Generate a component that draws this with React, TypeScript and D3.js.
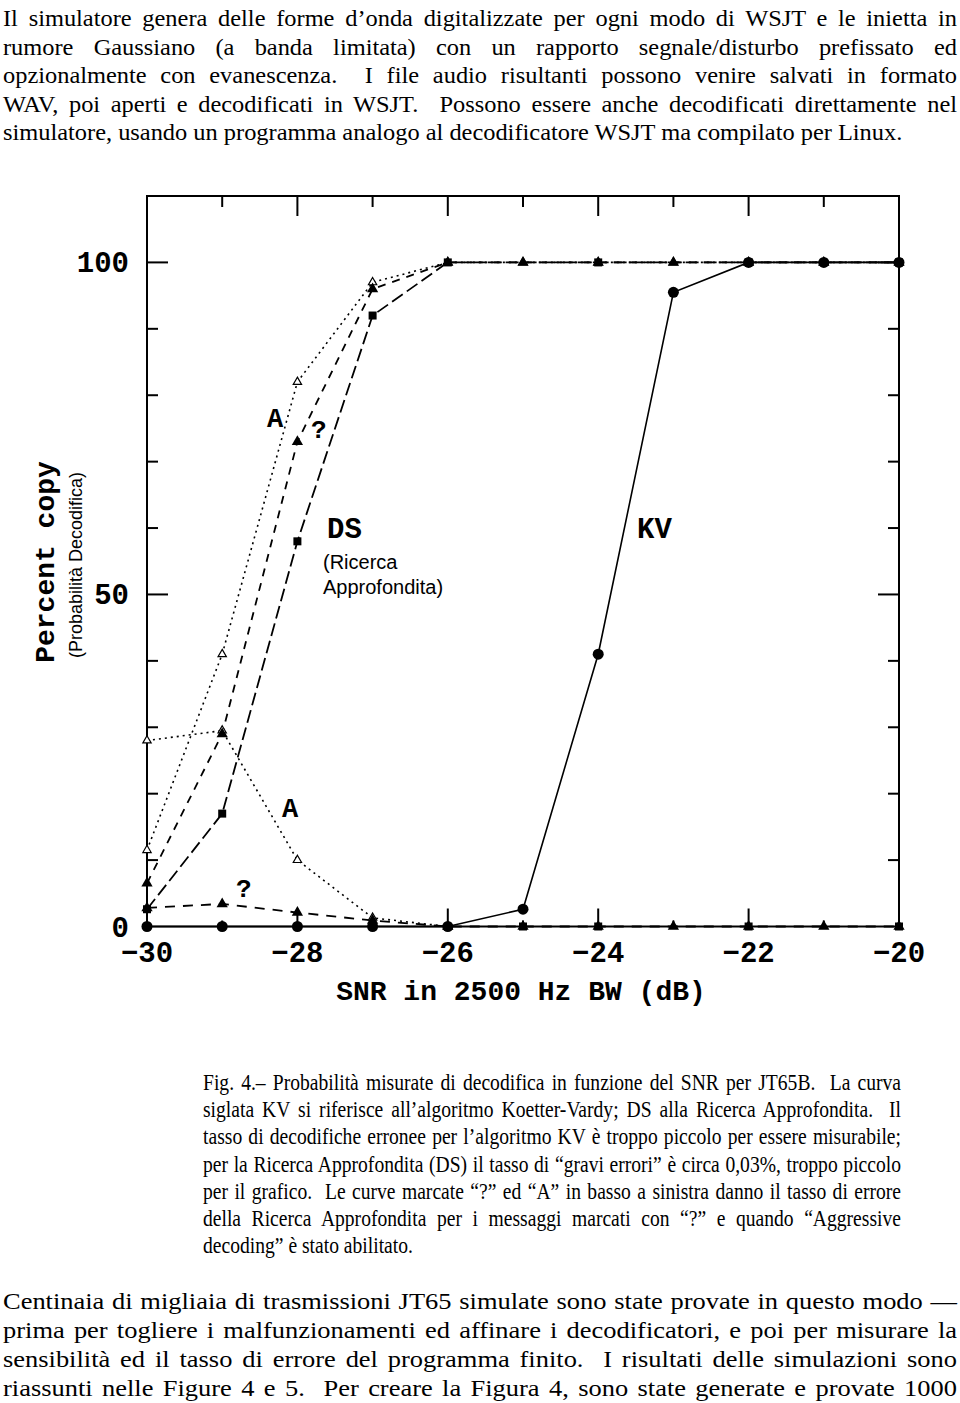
import React, { useEffect, useRef } from 'react';
import * as d3 from 'd3';

// SNR (dB) sampled every 1 dB
const snr = [-30, -29, -28, -27, -26, -25, -24, -23, -22, -21, -20];
const kvValues = [0, 0, 0, 0, 0, 2.6, 41, 95.5, 100, 100, 100];
const dsSnr = [-30, -29, -28, -27, -26, -24, -22, -20];
const dsValues = [2.6, 17, 58, 92, 100, 100, 100, 100];
const dsQValues = [6.5, 29, 73, 96, 100, 100, 100, 100, 100, 100, 100];
const dsAValues = [11.5, 41, 82, 97, 100, 100, 100, 100, 100, 100, 100];
// error rates (lower left)
const errQValues = [2.8, 3.4, 2.1, 0.9, 0, 0, 0, 0, 0, 0, 0];
const errASnr = [-30, -29, -28, -27, -26];
const errAValues = [28, 29.5, 10, 1.3, 0];
const dsErrSnr = [-25, -24, -22, -20];
const dsErrValues = [0, 0, 0, 0];

const xTickLabels = [-30, -28, -26, -24, -22, -20];
const yTickLabels = [0, 50, 100];

const topLines = [
  'Il simulatore genera delle forme d’onda digitalizzate per ogni modo di WSJT e le inietta in',
  'rumore Gaussiano (a banda limitata) con un rapporto segnale/disturbo prefissato ed',
  'opzionalmente con evanescenza.  I file audio risultanti possono venire salvati in formato',
  'WAV, poi aperti e decodificati in WSJT.  Possono essere anche decodificati direttamente nel',
  'simulatore, usando un programma analogo al decodificatore WSJT ma compilato per Linux.',
];
const captionLines = [
  'Fig. 4.– Probabilità misurate di decodifica in funzione del SNR per JT65B.  La curva',
  'siglata KV si riferisce all’algoritmo Koetter-Vardy; DS alla Ricerca Approfondita.  Il',
  'tasso di decodifiche erronee per l’algoritmo KV è troppo piccolo per essere misurabile;',
  'per la Ricerca Approfondita (DS) il tasso di “gravi errori” è circa 0,03%, troppo piccolo',
  'per il grafico.  Le curve marcate “?” ed “A” in basso a sinistra danno il tasso di errore',
  'della Ricerca Approfondita per i messaggi marcati con “?” e quando “Aggressive',
  'decoding” è stato abilitato.',
];
const bottomLines = [
  'Centinaia di migliaia di trasmissioni JT65 simulate sono state provate in questo modo —',
  'prima per togliere i malfunzionamenti ed affinare i decodificatori, e poi per misurare la',
  'sensibilità ed il tasso di errore del programma finito.  I risultati delle simulazioni sono',
  'riassunti nelle Figure 4 e 5.  Per creare la Figura 4, sono state generate e provate 1000',
];

const SERIF = '"Liberation Serif", "Times New Roman", serif';
const MONO = '"Liberation Mono", "Courier New", monospace';
const SANS = '"Liberation Sans", Arial, sans-serif';

const x = d3.scaleLinear().domain([-30, -20]).range([147, 899]);
const y = d3.scaleLinear().domain([0, 110]).range([926.5, 196]);

const App = () => {
  const textRef = useRef<SVGGElement>(null);

  useEffect(() => {
    const g = d3.select(textRef.current);
    g.selectAll('*').remove();

    const measure = (txt: string, fs: number) => {
      const p = g.append('text')
        .attr('font-family', SERIF)
        .attr('font-size', fs)
        .style('white-space', 'pre')
        .text(txt);
      const w = (p.node() as SVGTextElement).getComputedTextLength();
      p.remove();
      return w;
    };

    const blocks = [
      { lines: topLines, x: 3, width: 954, y0: 26, dy: 28.5, fs: 24, justifyLast: false, lastWidth: 900 },
      { lines: captionLines, x: 203, width: 698, y0: 1090, dy: 27.2, fs: 23, justifyLast: false, lastWidth: 0 },
      { lines: bottomLines, x: 3, width: 954, y0: 1309, dy: 29, fs: 24, justifyLast: true, lastWidth: 0 },
    ];

    blocks.forEach(b => {
      let s: number;
      if (b.lastWidth) {
        s = b.lastWidth / measure(b.lines[b.lines.length - 1], b.fs);
      } else {
        const justified = b.justifyLast ? b.lines : b.lines.slice(0, -1);
        const widest = d3.max(justified, l => measure(l, b.fs)) as number;
        s = (b.width * 0.985) / widest;
      }
      b.lines.forEach((line, i) => {
        const t = g.append('text')
          .attr('font-family', SERIF)
          .attr('font-size', b.fs)
          .attr('fill', '#000')
          .style('white-space', 'pre')
          .attr('transform', `translate(${b.x},${b.y0 + i * b.dy}) scale(${s},1)`)
          .text(line);
        if (i < b.lines.length - 1 || b.justifyLast) {
          const nat = (t.node() as SVGTextElement).getComputedTextLength();
          const spaces = (line.match(/ /g) || []).length;
          t.attr('word-spacing', Math.max(-2, (b.width / s - nat) / spaces));
        }
      });
    });
  }, []);

  const line = d3.line<[number, number]>().x(d => x(d[0])).y(d => y(d[1]));
  const pts = (xs: number[], ys: number[]) => xs.map((v, i) => [v, ys[i]] as [number, number]);

  const tri = d3.symbol().type(d3.symbolTriangle);
  const minorX = x.ticks(10);
  const minorY = d3.range(10, 101, 10);

  const stroke = '#000';

  return (
    <svg width={960} height={1403} style={{ position: 'absolute', left: 0, top: 0, background: '#fff' }}>
      <rect x={0} y={0} width={960} height={1403} fill="#fff" />
      <g ref={textRef} />

      {/* frame */}
      <rect x={x(-30)} y={y(110)} width={x(-20) - x(-30)} height={y(0) - y(110)} fill="none" stroke={stroke} strokeWidth={2} />

      {/* x ticks top & bottom */}
      {minorX.map(v => {
        const major = xTickLabels.includes(v);
        return (
          <g key={'xt' + v}>
            <line x1={x(v)} x2={x(v)} y1={y(110)} y2={y(110) + (major ? 20 : 11)} stroke={stroke} strokeWidth={2} />
            <line x1={x(v)} x2={x(v)} y1={y(0)} y2={y(0) - (major ? 18 : 6)} stroke={stroke} strokeWidth={2} />
          </g>
        );
      })}
      {/* y ticks left & right */}
      {minorY.map(v => {
        const major = yTickLabels.includes(v);
        return (
          <g key={'yt' + v}>
            <line x1={x(-30)} x2={x(-30) + (major ? 21 : 11)} y1={y(v)} y2={y(v)} stroke={stroke} strokeWidth={2} />
            <line x1={x(-20)} x2={x(-20) - (major ? 21 : 11)} y1={y(v)} y2={y(v)} stroke={stroke} strokeWidth={2} />
          </g>
        );
      })}

      {/* tick labels */}
      {yTickLabels.map(v => (
        <text key={'yl' + v} x={129} y={y(v) + 10} textAnchor="end" fontFamily={MONO} fontWeight="bold" fontSize={29}>{v}</text>
      ))}
      {xTickLabels.map(v => (
        <text key={'xl' + v} x={x(v)} y={962} textAnchor="middle" fontFamily={MONO} fontWeight="bold" fontSize={29}>{'−' + Math.abs(v)}</text>
      ))}
      <text x={521} y={1000} textAnchor="middle" fontFamily={MONO} fontWeight="bold" fontSize={28}>SNR in 2500 Hz BW (dB)</text>
      <text transform="translate(54,562) rotate(-90)" textAnchor="middle" fontFamily={MONO} fontWeight="bold" fontSize={28}>Percent copy</text>
      <text transform="translate(82,565) rotate(-90)" textAnchor="middle" fontFamily={SANS} fontSize={18}>(Probabilità Decodifica)</text>

      {/* curves */}
      <path d={line(pts(errASnr, errAValues))!} fill="none" stroke={stroke} strokeWidth={1.6} strokeDasharray="2,4" />
      <path d={line(pts(snr, errQValues))!} fill="none" stroke={stroke} strokeWidth={1.8} strokeDasharray="10,8" />
      <path d={line(pts(snr, dsAValues))!} fill="none" stroke={stroke} strokeWidth={1.6} strokeDasharray="2,4" />
      <path d={line(pts(snr, dsQValues))!} fill="none" stroke={stroke} strokeWidth={1.8} strokeDasharray="8,7" />
      <path d={line(pts(dsSnr, dsValues))!} fill="none" stroke={stroke} strokeWidth={1.8} strokeDasharray="13,5" />
      <path d={line(pts(snr, kvValues))!} fill="none" stroke={stroke} strokeWidth={1.6} />

      {/* markers */}
      {pts(errASnr, errAValues).map(([a, b]) => (
        <path key={'ea' + a} d={tri.size(30)()!} transform={`translate(${x(a)},${y(b)})`} fill="#fff" stroke={stroke} strokeWidth={1.2} />
      ))}
      {pts(snr, errQValues).map(([a, b]) => (
        <path key={'eq' + a} d={tri.size(55)()!} transform={`translate(${x(a)},${y(b)})`} fill={stroke} />
      ))}
      {pts(dsErrSnr, dsErrValues).map(([a, b]) => (
        <rect key={'de' + a} x={x(a) - 4} y={y(b) - 4} width={8} height={8} fill={stroke} />
      ))}
      {pts(snr, dsAValues).map(([a, b]) => (
        <path key={'da' + a} d={tri.size(30)()!} transform={`translate(${x(a)},${y(b)})`} fill="#fff" stroke={stroke} strokeWidth={1.2} />
      ))}
      {pts(snr, dsQValues).map(([a, b]) => (
        <path key={'dq' + a} d={tri.size(55)()!} transform={`translate(${x(a)},${y(b)})`} fill={stroke} />
      ))}
      {pts(dsSnr, dsValues).map(([a, b]) => (
        <rect key={'ds' + a} x={x(a) - 4} y={y(b) - 4} width={8} height={8} fill={stroke} />
      ))}
      {pts(snr, kvValues).map(([a, b]) => (
        <circle key={'kv' + a} cx={x(a)} cy={y(b)} r={5.5} fill={stroke} />
      ))}

      {/* annotations */}
      <text x={327} y={538} fontFamily={MONO} fontWeight="bold" fontSize={29}>DS</text>
      <text x={323} y={569} fontFamily={SANS} fontSize={20}>(Ricerca</text>
      <text x={323} y={594} fontFamily={SANS} fontSize={20}>Approfondita)</text>
      <text x={637} y={538} fontFamily={MONO} fontWeight="bold" fontSize={29}>KV</text>
      <text x={267} y={427} fontFamily={MONO} fontWeight="bold" fontSize={27}>A</text>
      <text x={311} y={438} fontFamily={MONO} fontWeight="bold" fontSize={26}>?</text>
      <text x={282} y={817} fontFamily={MONO} fontWeight="bold" fontSize={27}>A</text>
      <text x={236} y={897} fontFamily={MONO} fontWeight="bold" fontSize={26}>?</text>
    </svg>
  );
};

export default App;
